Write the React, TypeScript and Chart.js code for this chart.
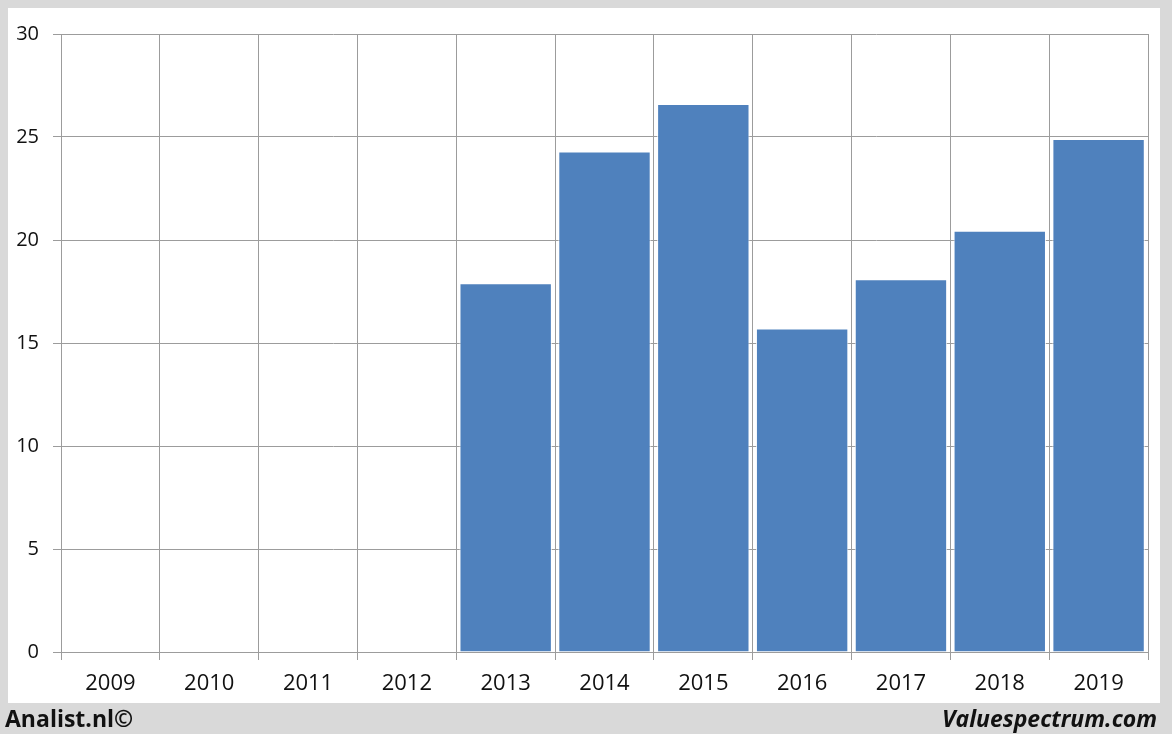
import React, { useEffect, useRef } from "react";
import { Chart, registerables } from "chart.js";

Chart.register(...registerables);

const categories = ["2009", "2010", "2011", "2012", "2013", "2014", "2015", "2016", "2017", "2018", "2019"];
const values: (number | null)[] = [null, null, null, null, 17.9, 24.3, 26.6, 15.7, 18.1, 20.45, 24.9];
const yMin = 0;
const yMax = 30;
const yStep = 5;
const footerLeft = "Analist.nl©";
const footerRight = "Valuespectrum.com";

const W = 1172;
const H = 734;
const GRID = "#9c9c9c";
const FONT = "'Open Sans', 'DejaVu Sans', sans-serif";

const framePlugin = {
  id: "frame",
  beforeDraw(chart: any) {
    const ctx = chart.ctx;
    ctx.save();
    ctx.fillStyle = "#d9d9d9";
    ctx.fillRect(0, 0, W, H);
    ctx.fillStyle = "#ffffff";
    ctx.fillRect(8, 8, 1152, 695);
    ctx.restore();
  },
  afterDraw(chart: any) {
    const ctx = chart.ctx;
    ctx.save();
    ctx.fillStyle = "#111111";
    ctx.textBaseline = "alphabetic";
    ctx.font = `bold 23px ${FONT}`;
    ctx.textAlign = "left";
    ctx.fillText(footerLeft, 5, 727);
    ctx.font = `italic bold 23px ${FONT}`;
    ctx.textAlign = "right";
    ctx.fillText(footerRight, 1157, 727);
    ctx.restore();
  },
};

export default function App() {
  const ref = useRef<HTMLCanvasElement | null>(null);
  useEffect(() => {
    if (!ref.current) return;
    const chart = new Chart(ref.current, {
      type: "bar",
      data: {
        labels: categories,
        datasets: [
          {
            data: values as any,
            backgroundColor: "#4f81bd",
            borderColor: "rgba(255,255,255,0.85)",
            borderWidth: 1,
            categoryPercentage: 1,
            barPercentage: 0.935,
          },
        ],
      },
      options: {
        responsive: false,
        animation: false,
        devicePixelRatio: 1,
        layout: { padding: { left: 0, top: 34, right: 24, bottom: 32 } },
        plugins: { legend: { display: false }, tooltip: { enabled: false } },
        scales: {
          x: {
            grid: { color: GRID, offset: true, tickLength: 8, lineWidth: 1 },
            border: { color: GRID },
            ticks: { color: "#111111", font: { family: FONT, size: 22 }, padding: 11, maxRotation: 0 },
            afterFit(scale: any) {
              scale.height = 50;
            },
          },
          y: {
            min: yMin,
            max: yMax,
            grid: { color: GRID, tickLength: 8, lineWidth: 1 },
            border: { color: GRID },
            ticks: { stepSize: yStep, color: "#111111", font: { family: FONT, size: 20 }, padding: 14 },
            afterFit(scale: any) {
              scale.width = 61;
            },
          },
        },
      },
      plugins: [framePlugin],
    });
    return () => chart.destroy();
  }, []);
  return (
    <div style={{ position: "absolute", left: 0, top: 0, width: W, height: H }}>
      <canvas ref={ref} width={W} height={H} style={{ display: "block", width: W, height: H }} />
    </div>
  );
}
